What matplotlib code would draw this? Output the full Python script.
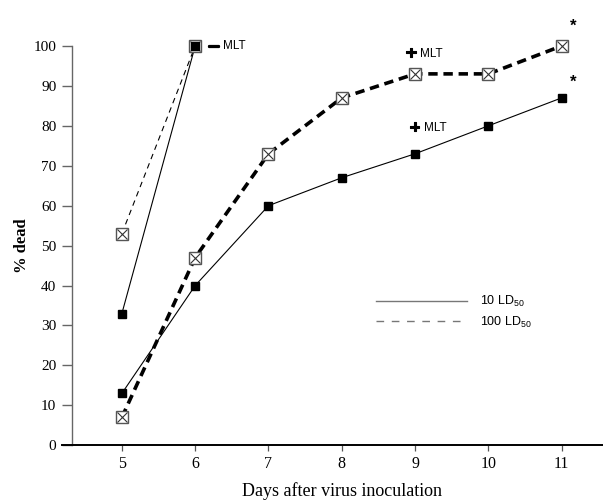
import matplotlib
matplotlib.use("Agg")
import matplotlib.pyplot as plt
import matplotlib.patheffects as pe
from matplotlib.lines import Line2D

# data
days = [5, 6, 7, 8, 9, 10, 11]
dead_10ld = [13, 40, 60, 67, 73, 80, 87]
dead_100ld = [7, 47, 73, 87, 93, 93, 100]
early_days = [5, 6]
early_10ld = [33, 100]
early_100ld = [53, 100]
y_ticks = list(range(0, 101, 10))
legend_labels = [r"10 LD$_{\mathregular{50}}$", r"100 LD$_{\mathregular{50}}$"]

SERIF = ["Liberation Serif", "DejaVu Serif"]
SANS = ["Liberation Sans", "DejaVu Sans"]

plt.rcParams["mathtext.fontset"] = "custom"
plt.rcParams["mathtext.rm"] = "Liberation Sans"

fig = plt.figure(figsize=(6.03, 5.01), dpi=100)
ax = fig.add_axes([61.7 / 603, 55.7 / 501, 541.3 / 603, 445.3 / 501])
ax.set_xlim(4.179, 11.563)
ax.set_ylim(0, 111.5)


def crossed_box(x, y):
    # open square with an x inside, as used for the 100 LD50 points
    ax.plot(x, y, ls="none", marker="s", ms=9, mfc="white",
            mec="#555555", mew=1.0, zorder=4)
    ax.plot(x, y, ls="none", marker="x", ms=7, mec="#333333",
            mew=0.8, zorder=5)


# early group (days 5-6)
ax.plot(early_days, early_10ld, color="black", lw=0.8, marker="s", ms=6,
        mfc="black", mec="black", zorder=3)
ax.plot(early_days, early_100ld, color="black", lw=0.8, ls=(0, (5, 4)),
        zorder=2)
crossed_box(early_days, early_100ld)

# main group
ax.plot(days, dead_10ld, color="black", lw=0.8, marker="s", ms=6,
        mfc="black", mec="black", zorder=3)
ax.plot(days, dead_100ld, color="black", lw=2.6, ls=(0, (2.6, 1.6)), zorder=2)
crossed_box(days, dead_100ld)

# filled square at day 6 sits on top of the crossed box
ax.plot(early_days[1:], early_10ld[1:], ls="none", marker="s", ms=6,
        mfc="black", mec="black", zorder=6)

# MLT labels
thick = [pe.withStroke(linewidth=1.6, foreground="black")]
ax.annotate("\u2014", xy=(early_days[1], early_10ld[1]), xytext=(10, -0.5),
            textcoords="offset points", ha="left", va="center",
            fontsize=7.5, fontweight="bold", family=SANS, path_effects=thick)
ax.annotate("MLT", xy=(early_days[1], early_10ld[1]), xytext=(20, 0),
            textcoords="offset points", ha="left", va="center",
            fontsize=8.5, family=SANS)
for yv, dx, dy in [(dead_100ld[4], -3, 14.5), (dead_10ld[4], -0.3, 18.5)]:
    ax.annotate("+", xy=(days[4], yv), xytext=(dx, dy),
                textcoords="offset points", ha="center", va="center",
                fontsize=13, fontweight="bold", family=SANS,
                path_effects=[pe.withStroke(linewidth=0.8, foreground="black")])
    ax.annotate("MLT", xy=(days[4], yv), xytext=(dx + 6.5, dy),
                textcoords="offset points", ha="left", va="center",
                fontsize=8.5, family=SANS)

# significance marks
for yv, dy in [(dead_100ld[-1], 14), (dead_10ld[-1], 11)]:
    ax.annotate("*", xy=(days[-1], yv), xytext=(8, dy),
                textcoords="offset points", ha="center", va="center",
                fontsize=12, fontweight="bold", family=SANS)

# legend (lines only, no markers)
handles = [Line2D([], [], color="#777777", lw=1.0),
           Line2D([], [], color="#777777", lw=1.0, ls=(0, (5.5, 5.5)))]
fig.legend(handles, legend_labels, loc="upper left",
           bbox_to_anchor=(376 / 603, 1 - 294 / 501), frameon=False,
           prop={"family": SANS, "size": 9}, handlelength=7.3,
           handletextpad=1.0, labelspacing=0.45, borderpad=0,
           borderaxespad=0)

# axes styling
for side in ["top", "right"]:
    ax.spines[side].set_visible(False)
ax.spines["left"].set_position(("data", 4.323))
ax.spines["left"].set_bounds(0, 100)
ax.spines["left"].set_color("#666666")
ax.spines["left"].set_linewidth(1.0)
ax.spines["bottom"].set_linewidth(1.4)

ax.set_xticks(days)
ax.set_xticklabels([str(d) for d in days], family=SERIF, fontsize=11.5)
ax.set_yticks(y_ticks)
ax.set_yticklabels([str(v) for v in y_ticks], family=SERIF, fontsize=11)
ax.tick_params(axis="x", length=4, width=0.9, color="#555555", pad=4)
ax.tick_params(axis="y", length=7.5, width=1.0, color="#666666", pad=4)

fig.text(342 / 603, 1 - 491 / 501, "Days after virus inoculation",
         ha="center", va="center", family=SERIF, fontsize=13)
fig.text(22 / 603, 1 - 246 / 501, "% dead", rotation=90, ha="center",
         va="center", family=SERIF, fontsize=12, fontweight="bold")

fig.savefig("out.png", dpi=100)
